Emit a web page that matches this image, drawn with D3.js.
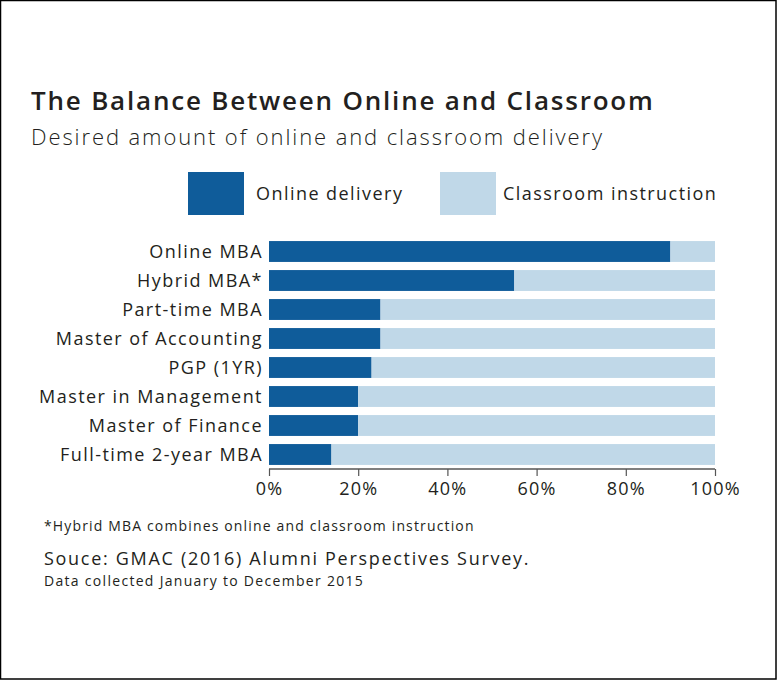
<!DOCTYPE html>
<html>
<head>
<meta charset="utf-8">
<script src="https://cdn.jsdelivr.net/npm/d3@7"></script>
<style>
  body { margin: 0; background: #fff; }
  svg text { font-family: "Open Sans", sans-serif; fill: #231f20; }
</style>
</head>
<body>
<div id="chart"></div>
<script>
(function() {

    // Chart values
    var programs = [
        "Online MBA",
        "Hybrid MBA*",
        "Part-time MBA",
        "Master of Accounting",
        "PGP (1YR)",
        "Master in Management",
        "Master of Finance",
        "Full-time 2-year MBA"
    ];
    var onlineShare = [90, 55, 25, 25, 23, 20, 20, 14];
    var classroomShare = [10, 45, 75, 75, 77, 80, 80, 86];
    var seriesNames = ["Online delivery", "Classroom instruction"];
    var tickValues = [0, 20, 40, 60, 80, 100];

    var width = 777;
    var height = 680;
    var colors = ["#0f5c9a", "#c0d8e8"];

    var svg = d3.select("#chart")
        .append("svg")
        .attr("width", width)
        .attr("height", height);

    // frame
    svg.append("rect")
        .attr("x", 0.5)
        .attr("y", 0.5)
        .attr("width", width - 1.5)
        .attr("height", height - 1.5)
        .attr("fill", "none")
        .attr("stroke", "#000")
        .attr("stroke-width", 1.5);

    // titles
    svg.append("text")
        .attr("x", 31)
        .attr("y", 110)
        .attr("font-size", 26)
        .attr("font-weight", 600)
        .attr("letter-spacing", 1.8)
        .text("The Balance Between Online and Classroom");

    svg.append("text")
        .attr("x", 31)
        .attr("y", 145)
        .attr("font-size", 22)
        .attr("font-weight", 300)
        .attr("letter-spacing", 1.9)
        .text("Desired amount of online and classroom delivery");

    // scales
    var x = d3.scaleLinear().domain([0, 100]).range([269, 715]);
    var y = d3.scaleBand().domain(programs).range([237, 469]).paddingInner(0.28).paddingOuter(0.14);

    // legend
    var legendX = [188, 440];
    var legendTextX = [68, 63];
    var legend = svg.append("g").selectAll("g")
        .data(seriesNames)
        .enter().append("g")
        .attr("transform", function(d, i) { return "translate(" + legendX[i] + ",172)"; });
    legend.append("rect")
        .attr("width", 56)
        .attr("height", 43)
        .attr("fill", function(d, i) { return colors[i]; });
    legend.append("text")
        .attr("x", function(d, i) { return legendTextX[i]; })
        .attr("y", 28)
        .attr("font-size", 18)
        .attr("letter-spacing", 1.45)
        .text(function(d) { return d; });

    // stacked bars
    var rows = programs.map(function(p, i) {
        return { program: p, online: onlineShare[i], classroom: classroomShare[i] };
    });
    var stack = d3.stack().keys(["online", "classroom"]);
    var layers = stack(rows);

    svg.append("g").selectAll("g")
        .data(layers)
        .enter().append("g")
        .attr("fill", function(d, i) { return colors[i]; })
        .selectAll("rect")
        .data(function(d) { return d; })
        .enter().append("rect")
        .attr("x", function(d) { return x(d[0]); })
        .attr("width", function(d) { return x(d[1]) - x(d[0]); })
        .attr("y", function(d) { return y(d.data.program); })
        .attr("height", y.bandwidth());

    // category labels
    svg.append("g").selectAll("text")
        .data(programs)
        .enter().append("text")
        .attr("x", 263)
        .attr("y", function(d) { return y(d) + y.bandwidth() / 2; })
        .attr("dy", "0.35em")
        .attr("text-anchor", "end")
        .attr("font-size", 18)
        .attr("letter-spacing", 1.45)
        .text(function(d) { return d; });

    // x axis
    var xAxis = d3.axisBottom(x)
        .tickValues(tickValues)
        .tickSize(7)
        .tickFormat(function(d) { return d + "%"; });
    var gx = svg.append("g")
        .attr("transform", "translate(0,469)")
        .call(xAxis);
    gx.select(".domain").attr("stroke", "#555").attr("stroke-width", 1.5).attr("d", "M269,0H715");
    gx.selectAll(".tick line").attr("stroke", "#555").attr("stroke-width", 1.2);
    gx.selectAll(".tick text")
        .attr("y", 13)
        .attr("font-size", 18)
        .attr("letter-spacing", 1.2)
        .attr("font-family", "Open Sans, sans-serif")
        .attr("fill", "#231f20");

    // notes
    svg.append("text")
        .attr("x", 44)
        .attr("y", 531)
        .attr("font-size", 14)
        .attr("letter-spacing", 1.15)
        .text("*Hybrid MBA combines online and classroom instruction");
    svg.append("text")
        .attr("x", 44)
        .attr("y", 565)
        .attr("font-size", 18)
        .attr("letter-spacing", 1.7)
        .text("Souce: GMAC (2016) Alumni Perspectives Survey.");
    svg.append("text")
        .attr("x", 44)
        .attr("y", 586)
        .attr("font-size", 14)
        .attr("letter-spacing", 1.3)
        .text("Data collected January to December 2015");

})();
</script>
</body>
</html>
